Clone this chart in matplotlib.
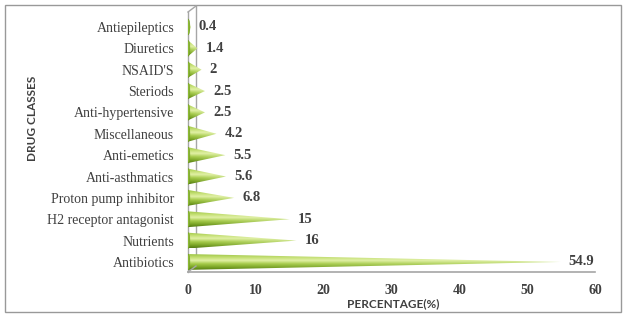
import matplotlib
matplotlib.use('Agg')
import matplotlib.pyplot as plt
import numpy as np
from matplotlib.colors import LinearSegmentedColormap, to_rgb
from matplotlib.patches import Polygon, Ellipse, Rectangle
from matplotlib.transforms import ScaledTranslation

# data, bottom to top
classes = ['Antibiotics', 'Nutrients', 'H2 receptor antagonist',
           'Proton pump inhibitor', 'Anti-asthmatics', 'Anti-emetics',
           'Miscellaneous', 'Anti-hypertensive', 'Steriods', "NSAID'S",
           'Diuretics', 'Antiepileptics']
percent = [54.9, 16, 15, 6.8, 5.6, 5.5, 4.2, 2.5, 2.5, 2, 1.4, 0.4]
xticks = [0, 10, 20, 30, 40, 50, 60]

text_col = '#404040'
grid_col = '#a6a6a6'
serif = ['Liberation Serif', 'DejaVu Serif']
sans = ['Lato', 'DejaVu Sans']

shade = LinearSegmentedColormap.from_list(
    'cone', ['#557d12', '#7ea828', '#a7cc4c', '#e2f1a6', '#c2de70', '#9fc646'])
light = np.array(to_rgb('#dbeca6'))

fig = plt.figure(figsize=(6.26, 3.16), dpi=100)
ax = fig.add_axes([188 / 626, 44 / 316, 407 / 626, 260 / 316])

h = 0.37
yy = np.linspace(0, 1, 60)[:, None]
xx = np.linspace(0, 1, 200)[None, :]
for i, v in enumerate(percent):
    rgb = shade(yy.repeat(200, axis=1))[..., :3]
    fade = (xx ** 1.5 * 0.55)[..., None]
    rgb = rgb * (1 - fade) + light * fade
    im = ax.imshow(rgb, extent=[0, v, i - h, i + h], origin='lower',
                   aspect='auto', interpolation='bilinear', zorder=3)
    tri = Polygon([[0, i - h], [0, i + h], [v, i]], closed=True,
                  facecolor='none', edgecolor='none')
    ax.add_patch(tri)
    im.set_clip_path(tri)
    ax.add_patch(Ellipse((0, i), width=0.55, height=2 * h,
                         facecolor='#8cb834', edgecolor='#6f9a22',
                         lw=0.4, zorder=4))
    ax.annotate(f'{v:g}', (v, i), xytext=(8, 0), textcoords='offset pixels',
                ha='left', va='center', fontsize=10.5, fontweight='bold',
                color=text_col, family=serif, zorder=5)

ax.set_xlim(0, 60)
ax.set_ylim(-0.47, 11.7)
ax.set_xticks(xticks)
ax.set_xticklabels([str(t) for t in xticks], family=serif, fontweight='bold',
                   fontsize=10, color=text_col)
ax.set_yticks(range(len(classes)))
ax.set_yticklabels(classes, family=serif, fontsize=10, color=text_col)
ax.tick_params(length=0)
ax.tick_params(axis='x', pad=9)
ax.tick_params(axis='y', pad=10)
for s in ax.spines.values():
    s.set_visible(False)

# 3-D wall and floor
back = ax.transAxes + ScaledTranslation(8 / 100, 6 / 100, fig.dpi_scale_trans)
ax.plot([0, 1], [0, 0], transform=ax.transAxes, color=grid_col, lw=1.2,
        clip_on=False, zorder=2)
ax.plot([0, 0], [0, 1], transform=ax.transAxes, color=grid_col, lw=1,
        clip_on=False, zorder=2)
ax.plot([0, 0], [0, 1], transform=back, color=grid_col, lw=1,
        clip_on=False, zorder=2)
fig.lines.append(plt.Line2D([188 / 626, 196 / 626], [1 - 272 / 316, 1 - 266 / 316],
                            transform=fig.transFigure, color=grid_col, lw=1))
fig.lines.append(plt.Line2D([188 / 626, 196 / 626], [1 - 12 / 316, 1 - 6 / 316],
                            transform=fig.transFigure, color=grid_col, lw=1))

fig.text(393 / 626, 1 - 304 / 316, 'PERCENTAGE(%)', ha='center', va='center',
         fontsize=8.5, fontweight='bold', color=text_col, family=sans)
fig.text(33 / 626, 1 - 118 / 316, 'DRUG CLASSES', ha='center', va='center',
         rotation=90, fontsize=8.5, fontweight='bold', color=text_col, family=sans)

fig.patches.append(Rectangle((5 / 626, 4 / 316), 616 / 626, 307 / 316,
                             transform=fig.transFigure, fill=False,
                             edgecolor='#999999', lw=1))

fig.savefig('out.png', dpi=100)
